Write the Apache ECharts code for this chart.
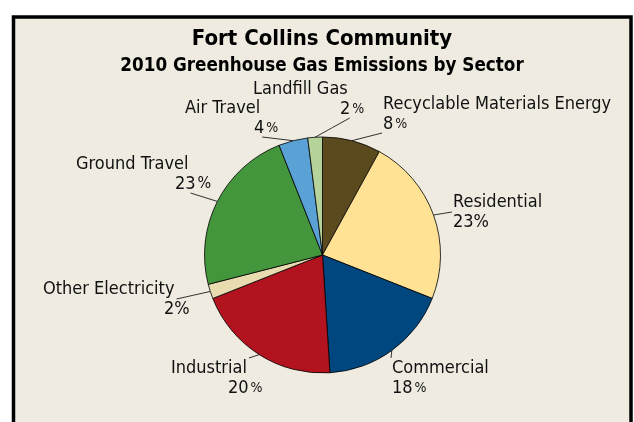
<!DOCTYPE html>
<html>
<head>
<meta charset="utf-8">
<script src="https://cdn.jsdelivr.net/npm/echarts@6/dist/echarts.min.js"></script>
<style>
  html, body { margin: 0; padding: 0; background: #ffffff; }
  #chart { width: 634px; height: 422px; }
</style>
</head>
<body>
<div id="chart"></div>
<script>
// Sector shares of community emissions (percent), clockwise from 12 o'clock
const sectors = [
  'Recyclable Materials Energy',
  'Residential',
  'Commercial',
  'Industrial',
  'Other Electricity',
  'Ground Travel',
  'Air Travel',
  'Landfill Gas'
];
const shares = [8, 23, 18, 20, 2, 23, 4, 2];

const chartTitle = 'Fort Collins Community';
const chartSubtitle = '2010 Greenhouse Gas Emissions by Sector';

// Slice fills
const sectorColors = [
  '#5C4A1F', '#FFE294', '#00467F', '#B3121F',
  '#E8DBAF', '#43963B', '#5AA2D6', '#B6D39B'
];

// Label placement: top-left of each two-line label block
const labelCorners = [
  [383, 94], [453, 192], [392, 358], [171, 358],
  [43, 279], [76, 154], [185, 98], [253, 79]
];
// Horizontal indent of the percentage line under the name
const valueIndent = [0, 0, 0, 57, 121, 99, 69, 87];
// Size of the % sign on each label
const percentSize = [14, 18, 14, 14, 18, 16, 14, 14];
// Where each leader line meets its label: [horizontal, vertical]
const leaderAnchor = [
  ['left', 'bottom'], ['left', 'middle'], ['left', 'top'], ['nameEnd', 'top'],
  ['nameEnd', 'line1'], ['nameEnd', 'bottom'], ['nameEnd', 'bottom'], ['nameEnd', 'bottom']
];

const FONT = "'DejaVu Sans Condensed', 'DejaVu Sans', sans-serif";
const FONT_SIZE = 18;
const LINE = 20;
const BG = '#EFEBE1';

// text width helper for leader-line anchoring
const measureCtx = document.createElement('canvas').getContext('2d');
function textWidth(str) {
  measureCtx.font = FONT_SIZE + 'px ' + FONT;
  return measureCtx.measureText(str).width;
}

const rich = {
  n: { fontSize: FONT_SIZE, fontFamily: FONT, color: '#111', lineHeight: LINE },
  v: { fontSize: FONT_SIZE, fontFamily: FONT, color: '#111', lineHeight: LINE }
};
percentSize.forEach((s, i) => {
  const small = s < FONT_SIZE;
  rich['p' + i] = {
    fontSize: s, fontFamily: FONT, color: '#111',
    lineHeight: small ? s + 4 : LINE,
    padding: small ? [0, 0, 0, 2] : 0
  };
  rich['g' + i] = { width: valueIndent[i], fontSize: FONT_SIZE, lineHeight: LINE };
});

const chart = echarts.init(document.getElementById('chart'), null, { renderer: 'canvas' });

chart.setOption({
  animation: false,
  backgroundColor: 'transparent',
  graphic: [{
    type: 'rect',
    z: -10,
    shape: { x: 13.5, y: 17, width: 617.5, height: 440 },
    style: { fill: BG, stroke: '#000', lineWidth: 3.5 }
  }],
  title: {
    text: chartTitle,
    subtext: chartSubtitle,
    left: 322,
    textAlign: 'center',
    top: 28,
    padding: 0,
    itemGap: 7,
    textStyle: { fontFamily: FONT, fontSize: 22, fontWeight: 'bold', color: '#000' },
    subtextStyle: { fontFamily: FONT, fontSize: 18.7, fontWeight: 'bold', color: '#000' }
  },
  series: [{
    type: 'pie',
    center: [322.5, 255],
    radius: 118,
    startAngle: 90,
    clockwise: true,
    avoidLabelOverlap: false,
    itemStyle: { borderColor: '#000', borderWidth: 0.8 },
    label: {
      show: true,
      position: 'outside',
      fontFamily: FONT,
      fontSize: FONT_SIZE,
      lineHeight: LINE,
      color: '#111',
      formatter: (p) => {
        const i = p.dataIndex;
        const gap = valueIndent[i] > 0 ? '{g' + i + '|\u00a0}' : '';
        return '{n|' + p.name + '}\n' + gap + '{v|' + p.value + '}{p' + i + '|%}';
      },
      rich: rich
    },
    labelLine: {
      show: true,
      length: 0,
      length2: 0,
      lineStyle: { color: '#000', width: 0.8 }
    },
    labelLayout: (params) => {
      const i = params.dataIndex;
      const c = labelCorners[i];
      // leader starts where the slice's mid-angle meets the rim
      const start = params.labelLinePoints[0];
      const a = leaderAnchor[i];
      const ax = a[0] === 'left' ? c[0] - 1 : c[0] + textWidth(sectors[i]) + 2;
      const ay = a[1] === 'top' ? c[1]
        : a[1] === 'middle' ? c[1] + LINE
        : a[1] === 'line1' ? c[1] + LINE
        : c[1] + 2 * LINE - 1;
      return {
        x: c[0], y: c[1], align: 'left', verticalAlign: 'top',
        labelLinePoints: [
          [start[0], start[1]],
          [(start[0] + ax) / 2, (start[1] + ay) / 2],
          [ax, ay]
        ]
      };
    },
    emphasis: { disabled: true },
    data: sectors.map((name, i) => ({
      name: name,
      value: shares[i],
      itemStyle: { color: sectorColors[i] }
    }))
  }]
});
</script>
</body>
</html>
